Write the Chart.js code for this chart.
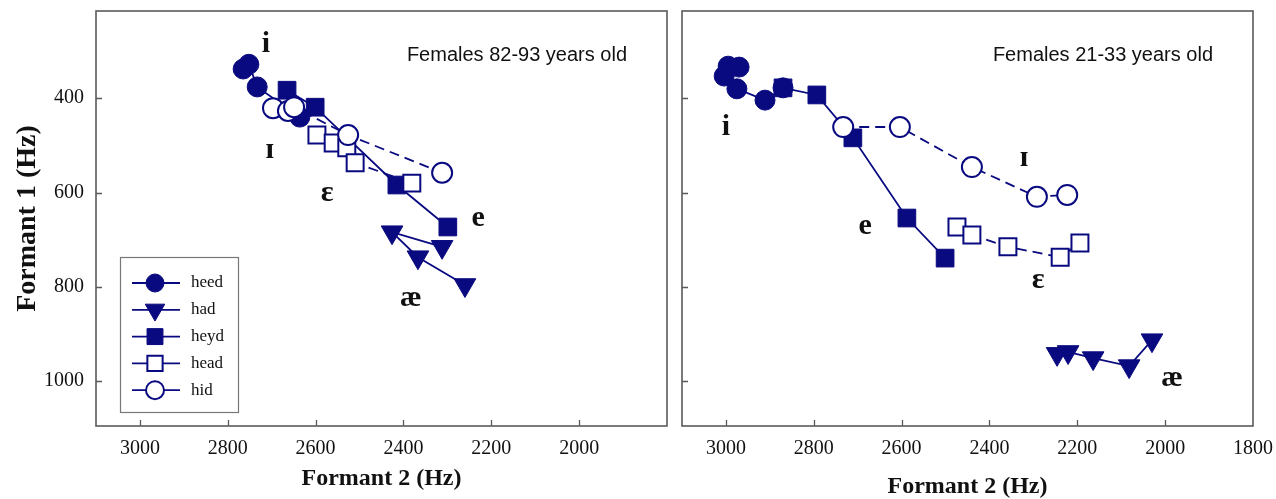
<!DOCTYPE html>
<html><head><meta charset="utf-8">
<script src="https://cdn.jsdelivr.net/npm/chart.js@4.4.0/dist/chart.umd.min.js"></script>
<style>
html,body{margin:0;padding:0;background:#fff;width:1276px;height:499px;overflow:hidden}
#w1{position:absolute;left:0;top:0;width:675px;height:499px}
#w2{position:absolute;left:675px;top:0;width:601px;height:499px}
</style></head><body>
<div id="w1"><canvas id="c1"></canvas></div>
<div id="w2"><canvas id="c2"></canvas></div>
<script>
// ---------- data ----------
const seriesNames = ['heed', 'had', 'heyd', 'head', 'hid'];
const panelTitles = ['Females 82-93 years old', 'Females 21-33 years old'];
const xTicksOld = [3000, 2800, 2600, 2400, 2200, 2000];
const xTicksYoung = [3000, 2800, 2600, 2400, 2200, 2000, 1800];
const yTicks = [400, 600, 800, 1000];
const axisTitleX = 'Formant 2 (Hz)';
const axisTitleY = 'Formant 1 (Hz)';

// Females 82-93 (F2, F1 in Hz)
const oldHeedF2 = [2765, 2752, 2733, 2636];
const oldHeedF1 = [338, 328, 376, 440];
const oldHadF2 = [2312, 2426, 2367, 2260];
const oldHadF1 = [715, 684, 737, 796];
const oldHeydF2 = [2665, 2601, 2415, 2299];
const oldHeydF1 = [383, 419, 584, 673];
const oldHeadF2 = [2597, 2560, 2529, 2510, 2381];
const oldHeadF1 = [478, 495, 505, 537, 580];
const oldHidF2 = [2697, 2663, 2649, 2526, 2312];
const oldHidF1 = [421, 427, 419, 478, 558];

// Females 21-33 (F2, F1 in Hz)
const youngHeedF2 = [2995, 2970, 3004, 2975, 2911, 2870];
const youngHeedF1 = [332, 334, 353, 380, 404, 378];
const youngHadF2 = [2246, 2221, 2164, 2082, 2030];
const youngHadF1 = [942, 938, 951, 968, 913];
const youngHeydF2 = [2870, 2793, 2711, 2588, 2501];
const youngHeydF1 = [378, 393, 484, 654, 739];
const youngHeadF2 = [2474, 2440, 2358, 2239, 2194];
const youngHeadF1 = [673, 690, 715, 737, 707];
const youngHidF2 = [2733, 2604, 2440, 2292, 2223];
const youngHidF1 = [461, 461, 546, 609, 605];

// vowel labels
const vowelText = ['i', 'ɪ', 'ɛ', 'e', 'æ'];
const oldVowelF2 = [2713, 2704, 2574, 2230, 2383];
const oldVowelF1 = [285, 510, 601, 654, 824];
const youngVowelF2 = [3000, 2321, 2289, 2683, 1984];
const youngVowelF1 = [461, 527, 785, 671, 993];

// ---------- styling ----------
const NAVY = '#0a0a80';
const FRAME = '#5a5a5a';
const SERIF = '"Liberation Serif", "Times New Roman", serif';
const SANS = '"Liberation Sans", Arial, sans-serif';

const styles = {
  heed: {pointStyle: 'circle', pointRadius: 10, pointBackgroundColor: NAVY, pointBorderWidth: 1, borderDash: [], order: 4},
  had:  {pointStyle: 'triangle', pointRotation: 180, pointRadius: 12.5, pointBackgroundColor: NAVY, pointBorderWidth: 1, borderDash: [], order: 3},
  heyd: {pointStyle: 'rect', pointRadius: 12.5, pointBackgroundColor: NAVY, pointBorderWidth: 1, borderDash: [], order: 2},
  head: {pointStyle: 'rect', pointRadius: 12, pointBackgroundColor: '#ffffff', pointBorderWidth: 2, borderDash: [10, 6], order: 1},
  hid:  {pointStyle: 'circle', pointRadius: 10, pointBackgroundColor: '#ffffff', pointBorderWidth: 2, borderDash: [10, 6], order: 0}
};

function pts(f2, f1) { return f2.map((v, i) => ({x: v, y: f1[i]})); }

function makeDatasets(arrs) {
  return seriesNames.map((n, i) => {
    const s = styles[n];
    return {
      label: n,
      data: pts(arrs[i][0], arrs[i][1]),
      showLine: true,
      borderColor: NAVY,
      borderWidth: 1.8,
      borderDash: s.borderDash,
      pointStyle: s.pointStyle,
      pointRotation: s.pointRotation || 0,
      pointRadius: s.pointRadius,
      pointHoverRadius: s.pointRadius,
      pointBackgroundColor: s.pointBackgroundColor,
      pointBorderColor: NAVY,
      pointBorderWidth: s.pointBorderWidth,
      order: s.order
    };
  });
}

const framePlugin = {
  id: 'framePlugin',
  afterDraw(chart, args, opts) {
    const ctx = chart.ctx;
    const a = chart.chartArea;
    const xs = chart.scales.x, ys = chart.scales.y;
    ctx.save();
    ctx.strokeStyle = FRAME;
    ctx.lineWidth = 1.6;
    ctx.setLineDash([]);
    ctx.strokeRect(a.left, a.top, a.right - a.left, a.bottom - a.top);
    ctx.lineWidth = 1.3;
    ctx.beginPath();
    xs.ticks.forEach(t => {
      const p = Math.round(xs.getPixelForValue(t.value)) + 0.5;
      if (p > a.left + 2 && p < a.right - 2) { ctx.moveTo(p, a.bottom); ctx.lineTo(p, a.bottom - 6); }
    });
    ys.ticks.forEach(t => {
      const p = Math.round(ys.getPixelForValue(t.value)) + 0.5;
      ctx.moveTo(a.left, p); ctx.lineTo(a.left + 6, p);
    });
    ctx.stroke();
    // panel title
    ctx.fillStyle = '#111';
    ctx.font = '20px ' + SANS;
    ctx.textAlign = 'right';
    ctx.textBaseline = 'middle';
    ctx.fillText(opts.title, a.right - 40, a.top + 44);
    // vowel labels
    ctx.font = 'bold 30px ' + SERIF;
    ctx.textAlign = 'center';
    ctx.fillStyle = '#111';
    opts.vowelF2.forEach((v, i) => {
      ctx.fillText(vowelText[i], xs.getPixelForValue(v), ys.getPixelForValue(opts.vowelF1[i]));
    });
    // legend
    if (opts.legend) {
      const L = opts.legend;
      ctx.strokeStyle = '#777';
      ctx.lineWidth = 1.2;
      ctx.strokeRect(L.x + 0.5, L.y + 0.5, L.w, L.h);
      chart.data.datasets.forEach((ds, i) => {
        const cy = L.y + L.firstRow + i * L.rowGap;
        ctx.strokeStyle = NAVY;
        ctx.lineWidth = 1.8;
        ctx.setLineDash([]);
        ctx.beginPath();
        ctx.moveTo(L.x + 12, cy); ctx.lineTo(L.x + 60, cy);
        ctx.stroke();
        ctx.fillStyle = ds.pointBackgroundColor;
        ctx.strokeStyle = NAVY;
        ctx.lineWidth = ds.pointBorderWidth;
        Chart.helpers.drawPoint(ctx, {
          pointStyle: ds.pointStyle, rotation: ds.pointRotation,
          radius: ds.pointRadius * 0.9, borderWidth: ds.pointBorderWidth
        }, L.x + 35, cy);
        ctx.fillStyle = '#111';
        ctx.font = '17px ' + SERIF;
        ctx.textAlign = 'left';
        ctx.textBaseline = 'middle';
        ctx.fillText(ds.label, L.x + 71, cy);
      });
    }
    ctx.restore();
  }
};

function zeroPad(s) { s.paddingTop = 0; s.paddingBottom = 0; s.paddingLeft = 0; s.paddingRight = 0; }

function makeChart(id, cfg) {
  return new Chart(document.getElementById(id), {
    type: 'scatter',
    data: {datasets: makeDatasets(cfg.arrs)},
    plugins: [framePlugin],
    options: {
      responsive: true,
      maintainAspectRatio: false,
      animation: false,
      events: [],
      layout: {autoPadding: false, padding: {top: 11, right: cfg.padRight, left: 0, bottom: 0}},
      plugins: {
        legend: {display: false},
        tooltip: {enabled: false},
        framePlugin: {title: cfg.title, vowelF2: cfg.vowelF2, vowelF1: cfg.vowelF1, legend: cfg.legend}
      },
      scales: {
        x: {
          type: 'linear', reverse: true, min: 1800, max: 3100,
          afterBuildTicks: s => { s.ticks = cfg.xTicks.map(v => ({value: v})); },
          afterFit: s => { s.height = 73; zeroPad(s); },
          grid: {display: false, drawTicks: false},
          border: {display: false},
          ticks: {color: '#111', font: {family: SERIF, size: 20}, padding: 11, maxRotation: 0, autoSkip: false,
                  callback: v => String(v)},
          title: {display: true, text: axisTitleX, color: '#111',
                  font: {family: SERIF, size: 24, weight: 'bold', lineHeight: 1},
                  padding: {top: 0, bottom: cfg.xTitlePad}}
        },
        y: {
          type: 'linear', reverse: true, min: 215, max: 1095,
          afterBuildTicks: s => { s.ticks = yTicks.map(v => ({value: v})); },
          afterFit: s => { s.width = cfg.yWidth; zeroPad(s); },
          grid: {display: false, drawTicks: false},
          border: {display: false},
          ticks: {display: cfg.yLabels, color: '#111', font: {family: SERIF, size: 20}, padding: 12,
                  callback: v => String(v)},
          title: {display: cfg.yLabels, text: axisTitleY, color: '#111',
                  font: {family: SERIF, size: 28, weight: 'bold', lineHeight: 1},
                  padding: {top: 14, bottom: 0}}
        }
      }
    }
  });
}

makeChart('c1', {
  arrs: [[oldHeedF2, oldHeedF1], [oldHadF2, oldHadF1], [oldHeydF2, oldHeydF1], [oldHeadF2, oldHeadF1], [oldHidF2, oldHidF1]],
  title: panelTitles[0], vowelF2: oldVowelF2, vowelF1: oldVowelF1,
  xTicks: xTicksOld, padRight: 8, yWidth: 96, yLabels: true, xTitlePad: 8,
  legend: {x: 120, y: 257, w: 118, h: 155, firstRow: 26, rowGap: 26.8}
});
makeChart('c2', {
  arrs: [[youngHeedF2, youngHeedF1], [youngHadF2, youngHadF1], [youngHeydF2, youngHeydF1], [youngHeadF2, youngHeadF1], [youngHidF2, youngHidF1]],
  title: panelTitles[1], vowelF2: youngVowelF2, vowelF1: youngVowelF1,
  xTicks: xTicksYoung, padRight: 23, yWidth: 7, yLabels: false, xTitlePad: 0,
  legend: null
});
</script>
</body></html>
